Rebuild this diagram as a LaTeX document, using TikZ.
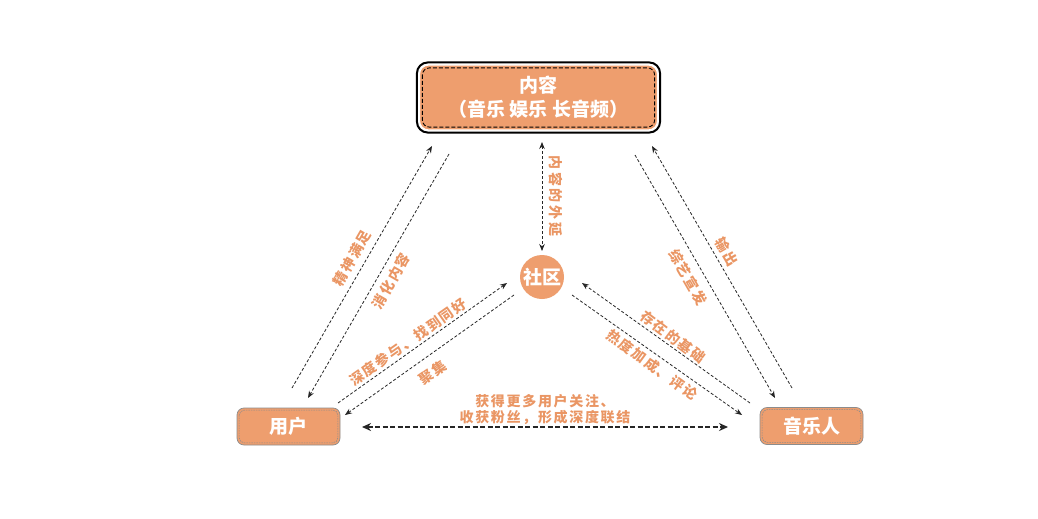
\documentclass[tikz,border=0pt]{standalone}
\usepackage{fontspec}
\newfontfamily\cjk{Noto Sans CJK SC}
\newfontfamily\cjkl{Noto Sans CJK SC}[LetterSpace=12]
\newfontfamily\cjkv{Noto Sans CJK SC}[LetterSpace=20]
\usetikzlibrary{arrows.meta,calc}
\definecolor{boxor}{RGB}{238,158,110}
\definecolor{labor}{RGB}{234,150,100}
\begin{document}
\begin{tikzpicture}[x=1pt,y=-1pt,
  mainbox/.style={fill=boxor, draw=white, line width=1.2pt, rounded corners=9pt,
    minimum width=238pt, minimum height=65pt, align=center, text=white,
    font=\cjk\bfseries\fontsize{19}{24}\selectfont, inner sep=0pt},
  smallbox/.style={fill=boxor, draw=gray!90, line width=0.7pt, rounded corners=7pt,
    minimum width=103pt, minimum height=37pt, text=white,
    font=\cjk\bfseries\fontsize{19}{22}\selectfont, inner sep=0pt},
  hub/.style={circle, fill=boxor, minimum size=44pt, inner sep=0pt, text=white,
    font=\cjk\bfseries\fontsize{19}{22}\selectfont},
  conn/.style={draw=black!85, line width=0.8pt, dash pattern=on 3pt off 2pt,
    -{Stealth[length=7pt,width=5.5pt]}},
  bconn/.style={conn, {Stealth[length=7pt,width=5.5pt]}-{Stealth[length=7pt,width=5.5pt]}},
  thick conn/.style={draw=black!85, line width=1.8pt, dash pattern=on 5pt off 2.5pt,
    {Stealth[length=9pt,width=8pt]}-{Stealth[length=9pt,width=8pt]}},
  lab/.style={text=labor, font=\cjkl\bfseries\fontsize{14}{17}\selectfont, inner sep=0pt}
]
\useasboundingbox[fill=white] (0,0) rectangle (1038,519);

% nodes
\node[mainbox] (content) at (538.5,97.5) {内容\\（音乐 娱乐 长音频）};
\draw[black, line width=2pt, rounded corners=11pt]
  ($(content.north west)+(-2,-2)$) rectangle ($(content.south east)+(2,2)$);
\draw[black, line width=0.9pt, dash pattern=on 4pt off 2pt, rounded corners=7pt]
  ($(content.north west)+(3.5,3.5)$) rectangle ($(content.south east)+(-3.5,-3.5)$);

\node[smallbox] (user) at (288.5,426.5) {用户};
\draw[gray!90, line width=0.6pt, dash pattern=on 1.5pt off 1pt, rounded corners=5pt]
  ($(user.north west)+(2.5,2.5)$) rectangle ($(user.south east)+(-2.5,-2.5)$);

\node[smallbox] (musician) at (811.5,426) {音乐人};
\draw[gray!90, line width=0.6pt, dash pattern=on 1.5pt off 1pt, rounded corners=5pt]
  ($(musician.north west)+(2.5,2.5)$) rectangle ($(musician.south east)+(-2.5,-2.5)$);

\node[hub] (community) at (542,277) {社区};

% connector end points
\coordinate (a1s) at (292,388);  \coordinate (a1e) at (432,146);
\coordinate (a2s) at (449,154);  \coordinate (a2e) at (308,398);
\coordinate (a3s) at (338,403);  \coordinate (a3e) at (507,283);
\coordinate (a4s) at (514,295);  \coordinate (a4e) at (345,415);
\coordinate (b1s) at (792,388);  \coordinate (b1e) at (652,146);
\coordinate (b2s) at (635,155);  \coordinate (b2e) at (775,398);
\coordinate (b3s) at (750,403);  \coordinate (b3e) at (582,283);
\coordinate (b4s) at (572,295);  \coordinate (b4e) at (742,415);
\coordinate (vs) at (542,142);   \coordinate (ve) at (542,251);
\coordinate (hs) at (362,427);   \coordinate (he) at (728,427);

\draw[conn] (a1s) -- (a1e);
\draw[conn] (a2s) -- (a2e);
\draw[conn] (a3s) -- (a3e);
\draw[conn] (a4s) -- (a4e);
\draw[conn] (b1s) -- (b1e);
\draw[conn] (b2s) -- (b2e);
\draw[conn] (b3s) -- (b3e);
\draw[conn] (b4s) -- (b4e);
\draw[bconn] (vs) -- (ve);
\draw[thick conn] (hs) -- (he);

% labels
\node[lab, rotate=60] (l1) at (352,258) {精神满足};
\node[lab, rotate=60] (l2) at (391,281) {消化内容};
\node[lab, rotate=35] (l3) at (408,342) {深度参与、找到同好};
\node[lab, rotate=35] (l4) at (433,373) {聚集};
\node[lab, rotate=-60] (l5) at (727,252) {输出};
\node[lab, rotate=-60] (l6) at (688,277) {综艺宣发};
\node[lab, rotate=-37] (l7) at (673,337) {存在的基础};
\node[lab, rotate=-36] (l8) at (652,365) {热度加成、评论};
\node[lab, rotate=-90, font=\cjkv\bfseries\fontsize{14}{17}\selectfont] (l9) at (556,196) {内容的外延};
\node[lab, align=center, font=\cjkl\bfseries\fontsize{14}{16}\selectfont] (l10) at (545,410) {获得更多用户关注、\\收获粉丝，形成深度联结};
\end{tikzpicture}
\end{document}
